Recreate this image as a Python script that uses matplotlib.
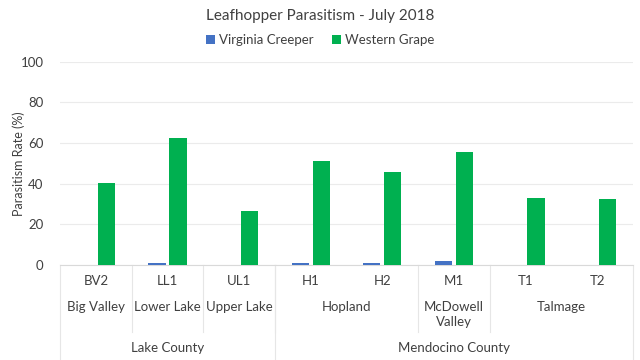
import matplotlib
matplotlib.use('Agg')
import matplotlib.pyplot as plt

sites = ['BV2', 'LL1', 'UL1', 'H1', 'H2', 'M1', 'T1', 'T2']
virginia_creeper = [0, 0.8, 0, 1.2, 1.2, 2.0, 0, 0]
western_grape = [40.5, 62.6, 26.3, 51.3, 45.6, 55.3, 33.1, 32.3]
locations = ['Big Valley', 'Lower Lake', 'Upper Lake', 'Hopland', 'McDowell\nValley', 'Talmage']
location_sizes = [1, 1, 1, 2, 1, 2]
counties = ['Lake County', 'Mendocino County']
county_sizes = [3, 5]

plt.rcParams['font.family'] = ['Lato', 'DejaVu Sans']
blue = '#4472C4'
green = '#00B050'
grey = '#D9D9D9'
text_col = '#404040'

fig = plt.figure(figsize=(6.4, 3.6), dpi=100)
ax = fig.add_axes([0.094, 0.264, 0.895, 0.565])

x = range(len(sites))
w = 0.24
ax.bar([i - 0.147 for i in x], virginia_creeper, w, color=blue, label='Virginia Creeper', zorder=3)
ax.bar([i + 0.147 for i in x], western_grape, w, color=green, label='Western Grape', zorder=3)

ax.set_xlim(-0.5, len(sites) - 0.5)
ax.set_ylim(0, 100)
ax.set_yticks(range(0, 101, 20))
ax.tick_params(axis='y', length=0, pad=12, labelsize=9.5, colors=text_col)
ax.set_xticks([])
ax.grid(axis='y', color='#EBEBEB', linewidth=0.8, zorder=0)
for s in ['top', 'right', 'left']:
    ax.spines[s].set_visible(False)
ax.spines['bottom'].set_color(grey)
ax.set_ylabel('Parasitism Rate (%)', fontsize=9, color=text_col)
ax.yaxis.set_label_coords(-0.061, 0.5)

tr = ax.get_xaxis_transform()
# level 1: sites
for i, s in enumerate(sites):
    ax.text(i, -0.08, s, transform=tr, ha='center', va='center', fontsize=9.5, color=text_col)
# level 2: locations
start = 0
for name, n in zip(locations, location_sizes):
    c = start + (n - 1) / 2
    yy = -0.245 if '\n' in name else -0.207
    ax.text(c, yy, name, transform=tr, ha='center', va='center', fontsize=9.5,
            color=text_col, linespacing=1.3)
    start += n
    if start < len(sites):
        ax.plot([start - 0.5] * 2, [0, -0.33], transform=tr, color='#E6E6E6',
                linewidth=0.8, clip_on=False)
# level 3: counties
start = 0
for name, n in zip(counties, county_sizes):
    c = start + (n - 1) / 2
    ax.text(c, -0.408, name, transform=tr, ha='center', va='center', fontsize=9.5, color=text_col)
    ax.plot([start - 0.5] * 2, [0, -0.47], transform=tr, color='#E6E6E6',
            linewidth=0.8, clip_on=False)
    start += n
ax.plot([start - 0.5] * 2, [0, -0.47], transform=tr, color='#E6E6E6',
        linewidth=0.8, clip_on=False)

fig.suptitle('Leafhopper Parasitism - July 2018', y=0.975, fontsize=11, color=text_col)
fig.legend(loc='center', bbox_to_anchor=(0.5, 0.888), ncol=2, frameon=False,
           fontsize=9.5, handlelength=0.7, handleheight=0.7, handletextpad=0.3,
           columnspacing=1.4, labelcolor=text_col)

fig.savefig('out.png', dpi=100)
